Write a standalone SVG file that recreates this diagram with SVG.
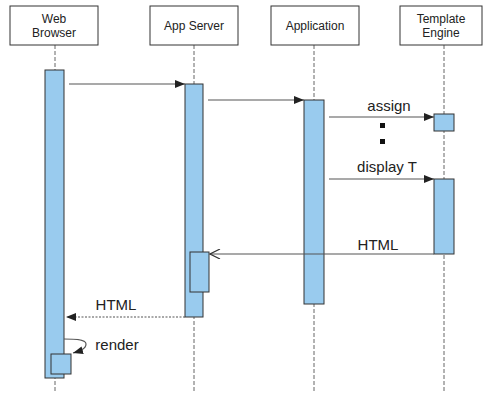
<svg xmlns="http://www.w3.org/2000/svg" width="484" height="396" viewBox="0 0 484 396">
  <style>
    .head { fill: #ffffff; stroke: #333333; stroke-width: 1; }
    .htxt { font-family: "Liberation Sans", Arial, sans-serif; font-size: 12px; fill: #222222; text-anchor: middle; }
    .life { stroke: #666666; stroke-width: 1; stroke-dasharray: 4 2; fill: none; }
    .bar { fill: #99cbee; stroke: #333333; stroke-width: 1; }
    .msg { stroke: #555555; stroke-width: 1.2; fill: none; }
    .ret { stroke: #555555; stroke-width: 1.2; stroke-dasharray: 2 1.5; fill: none; }
    .lbl { font-family: "Liberation Sans", Arial, sans-serif; font-size: 15px; fill: #222222; text-anchor: middle; }
  </style>
  <defs>
    <marker id="filled" viewBox="0 0 10 8" refX="10" refY="4" markerWidth="10" markerHeight="8" markerUnits="userSpaceOnUse" orient="auto">
      <path d="M0,0 L10,4 L0,8 Z" fill="#222222"/>
    </marker>
    <marker id="open" viewBox="0 0 12 10" refX="11" refY="5" markerWidth="12" markerHeight="10" markerUnits="userSpaceOnUse" orient="auto">
      <path d="M1,0 L11,5 L1,10" fill="none" stroke="#333333" stroke-width="1.2"/>
    </marker>
  </defs>

  <!-- lifelines -->
  <g id="lifelines">
    <line class="life" x1="55" y1="45" x2="55" y2="392"/>
    <line class="life" x1="194" y1="45" x2="194" y2="392"/>
    <line class="life" x1="314" y1="45" x2="314" y2="392"/>
    <line class="life" x1="444" y1="45" x2="444" y2="392"/>
  </g>

  <g id="web-browser">
    <rect class="head" x="10" y="6" width="88" height="39"/>
    <text class="htxt" x="54" y="23">Web</text>
    <text class="htxt" x="54" y="37">Browser</text>
    <rect class="bar" x="45" y="70" width="19" height="308"/>
    <rect class="bar" x="51" y="354" width="20" height="20"/>
  </g>

  <g id="app-server">
    <rect class="head" x="150" y="6" width="88" height="39"/>
    <text class="htxt" x="194" y="30">App Server</text>
    <rect class="bar" x="185" y="84" width="18" height="233"/>
    <rect class="bar" x="190" y="252" width="19" height="40"/>
  </g>

  <g id="application">
    <rect class="head" x="271" y="6" width="88" height="39"/>
    <text class="htxt" x="315" y="30">Application</text>
    <rect class="bar" x="304" y="100" width="20" height="204"/>
  </g>

  <g id="template-engine">
    <rect class="head" x="400" y="6" width="82" height="39"/>
    <text class="htxt" x="441" y="23">Template</text>
    <text class="htxt" x="441" y="37">Engine</text>
    <rect class="bar" x="434" y="114" width="20" height="17"/>
    <rect class="bar" x="434" y="179" width="20" height="75"/>
  </g>

  <!-- messages -->
  <g id="connectors">
    <line class="msg" x1="69" y1="84" x2="185" y2="84" marker-end="url(#filled)"/>
    <line class="msg" x1="208" y1="100" x2="304" y2="100" marker-end="url(#filled)"/>
    <line class="msg" x1="329" y1="117" x2="434" y2="117" marker-end="url(#filled)"/>
    <text class="lbl" x="389" y="111">assign</text>
    <rect x="380" y="123" width="5" height="5" fill="#111111"/>
    <rect x="380" y="139" width="5" height="5" fill="#111111"/>
    <line class="msg" x1="329" y1="179" x2="434" y2="179" marker-end="url(#filled)"/>
    <text class="lbl" x="387" y="172">display T</text>
    <line class="msg" x1="434" y1="254" x2="210" y2="254" marker-end="url(#open)"/>
    <text class="lbl" x="378" y="250">HTML</text>
    <line class="ret" x1="185" y1="317" x2="66" y2="317" marker-end="url(#filled)"/>
    <text class="lbl" x="116" y="310">HTML</text>
    <path class="msg" d="M64,339 C72,339 86,339 86,344 C86,349 80,351 73,353" marker-end="url(#filled)"/>
    <text class="lbl" x="117" y="350">render</text>
  </g>
</svg>
